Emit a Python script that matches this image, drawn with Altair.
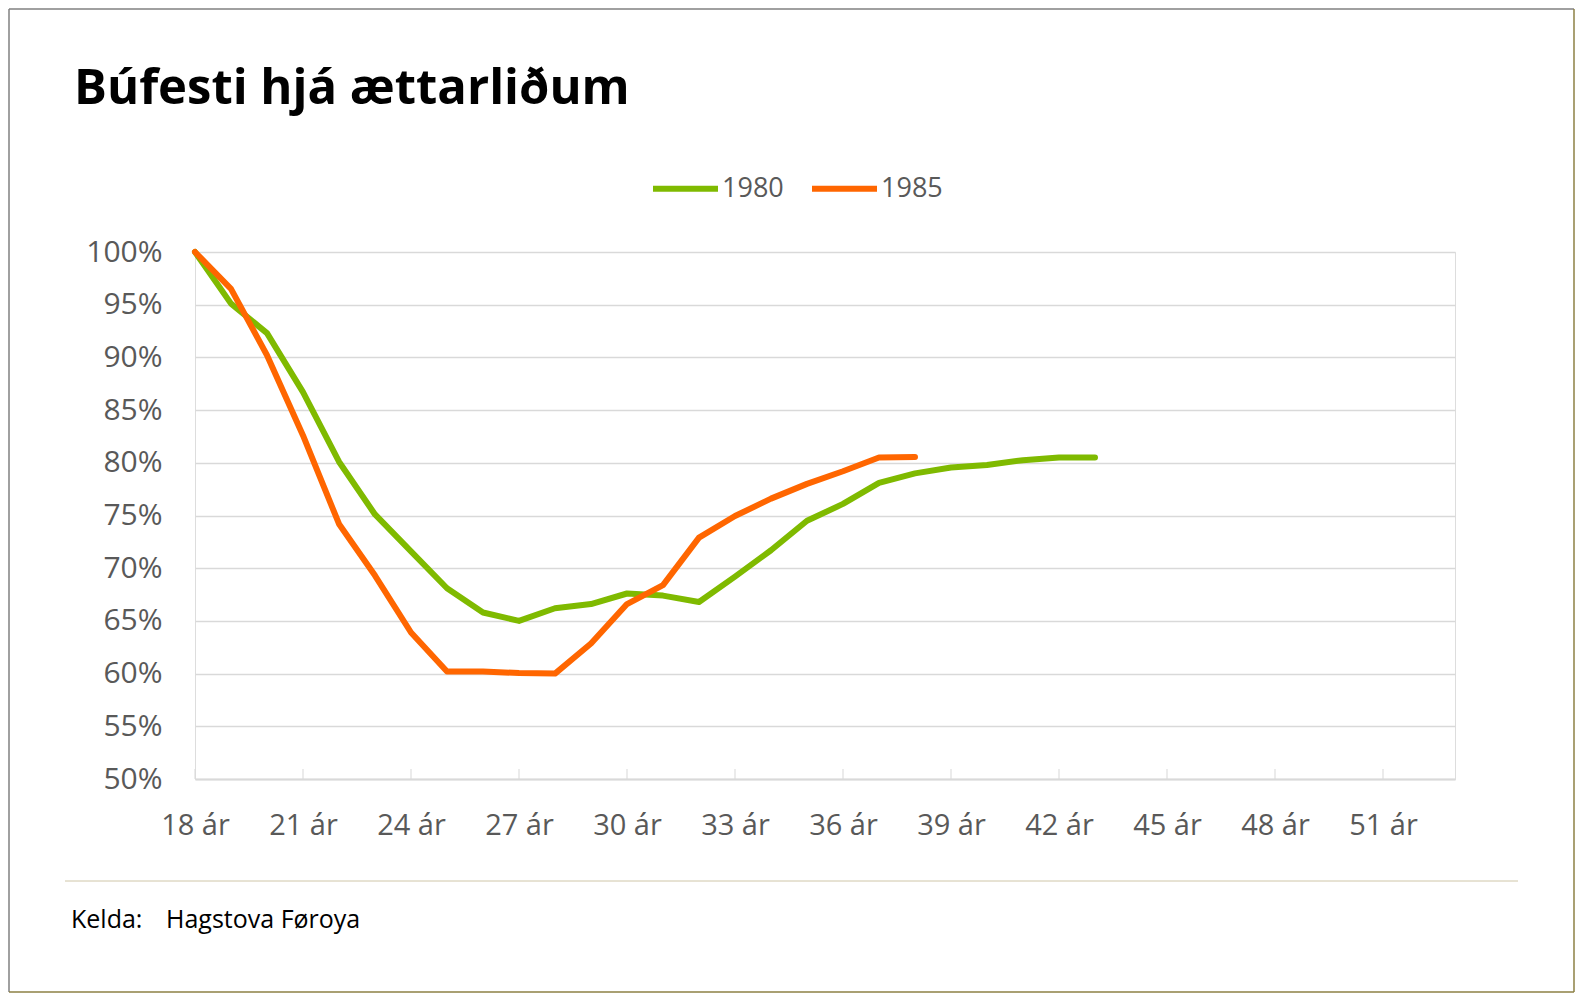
import altair as alt
import pandas as pd

# ---- data ----
ages_1980 = list(range(18, 44))
vals_1980 = [100, 95.1, 92.3, 86.7, 80.1, 75.1, 71.6, 68.1, 65.8, 65.0, 66.2, 66.6, 67.6,
             67.4, 66.8, 69.2, 71.7, 74.5, 76.1, 78.1, 79.0, 79.55, 79.8, 80.25, 80.5, 80.5]
ages_1985 = list(range(18, 39))
vals_1985 = [100, 96.5, 90.2, 82.6, 74.2, 69.3, 63.9, 60.2, 60.2, 60.05, 60.0, 62.85, 66.6,
             68.4, 72.9, 74.95, 76.6, 78.0, 79.2, 80.5, 80.55]
series_names = ["1980", "1985"]
series_colors = ["#7FBA00", "#FF6600"]
x_tick_values = list(range(18, 52, 3))
y_tick_values = [0.50, 0.55, 0.60, 0.65, 0.70, 0.75, 0.80, 0.85, 0.90, 0.95, 1.00]
title_text = "Búfesti hjá ættarliðum"
source_label = "Kelda:"
source_text = "Hagstova Føroya"

rows = [{"age": a, "share": v / 100, "series": "1980"} for a, v in zip(ages_1980, vals_1980)]
rows += [{"age": a, "share": v / 100, "series": "1985"} for a, v in zip(ages_1985, vals_1985)]
df = pd.DataFrame(rows)
ticks_df = pd.DataFrame({"age": x_tick_values, "share": [0.5] * len(x_tick_values)})
one = ticks_df.head(1)

FONT = "Open Sans"
GREY = "#595959"
GRID = "#D9D9D9"

x_scale = alt.Scale(domain=[18, 53], nice=False, zero=False)
y_scale = alt.Scale(domain=[0.5, 1.0], nice=False, zero=False)

lines = alt.Chart(df).mark_line(strokeWidth=6, strokeCap="round", strokeJoin="round").encode(
    x=alt.X("age:Q", scale=x_scale,
            axis=alt.Axis(values=x_tick_values, labelExpr="datum.value + ' ár'", title=None,
                          grid=False, ticks=False, domain=True, domainColor=GRID, domainWidth=2,
                          labelFlush=False, labelOverlap=False,
                          labelFont=FONT, labelFontSize=29, labelColor=GREY, labelPadding=32)),
    y=alt.Y("share:Q", scale=y_scale,
            axis=alt.Axis(values=y_tick_values, format=".0%", title=None, grid=True,
                          gridColor=GRID, gridWidth=1.5, ticks=False, domain=False,
                          labelFlush=False,
                          labelFont=FONT, labelFontSize=30, labelColor=GREY, labelPadding=33)),
    color=alt.Color("series:N", scale=alt.Scale(domain=series_names, range=series_colors),
                    legend=alt.Legend(title=None, orient="none", direction="horizontal",
                                      legendX=455, legendY=-99, symbolType="stroke",
                                      symbolSize=4225, symbolStrokeWidth=6, labelOffset=1,
                                      columnPadding=16, labelFont=FONT, labelFontSize=27,
                                      labelColor=GREY)),
)

xticks = alt.Chart(ticks_df).mark_tick(color=GRID, thickness=1.5, size=10, yOffset=-5,
                                       orient="vertical").encode(
    x=alt.X("age:Q", scale=x_scale),
    y=alt.Y("share:Q", scale=y_scale),
)

title_mark = alt.Chart(one).mark_text(
    text=title_text, align="left", baseline="alphabetic", font=FONT, fontSize=49,
    fontWeight="bold", color="black"
).encode(x=alt.value(-121), y=alt.value(-148))

footer_rule = alt.Chart(one).mark_rule(color="#CFC6A8", strokeWidth=1).encode(
    x=alt.value(-130), x2=alt.value(1323), y=alt.value(629))

footer_label = alt.Chart(one).mark_text(
    text=source_label, align="left", baseline="middle", font=FONT, fontSize=25, color="black"
).encode(x=alt.value(-124), y=alt.value(668))

footer_text = alt.Chart(one).mark_text(
    text=source_text, align="left", baseline="middle", font=FONT, fontSize=25, color="black"
).encode(x=alt.value(-29), y=alt.value(668))

border_left = alt.Chart(one).mark_rule(color="#808080", strokeWidth=1.5).encode(
    x=alt.value(-186), y=alt.value(-243), y2=alt.value(740))
border_top = alt.Chart(one).mark_rule(color="#808080", strokeWidth=1.5).encode(
    x=alt.value(-186), x2=alt.value(1379), y=alt.value(-243))
border_right = alt.Chart(one).mark_rule(color="#8C8045", strokeWidth=1.5).encode(
    x=alt.value(1379), y=alt.value(-243), y2=alt.value(740))
border_bottom = alt.Chart(one).mark_rule(color="#8C8045", strokeWidth=1.5).encode(
    x=alt.value(-186), x2=alt.value(1379), y=alt.value(740))

chart = alt.layer(border_left, border_top, border_right, border_bottom, lines, xticks,
                  title_mark, footer_rule, footer_label, footer_text).properties(
    width=1260, height=527,
    autosize=alt.AutoSizeParams(type="none"),
    padding={"left": 187, "top": 244, "right": 120, "bottom": 241},
).configure_view(stroke=None).configure(background="white")

chart.save("out.html", embed_options={"renderer": "svg", "actions": False})
